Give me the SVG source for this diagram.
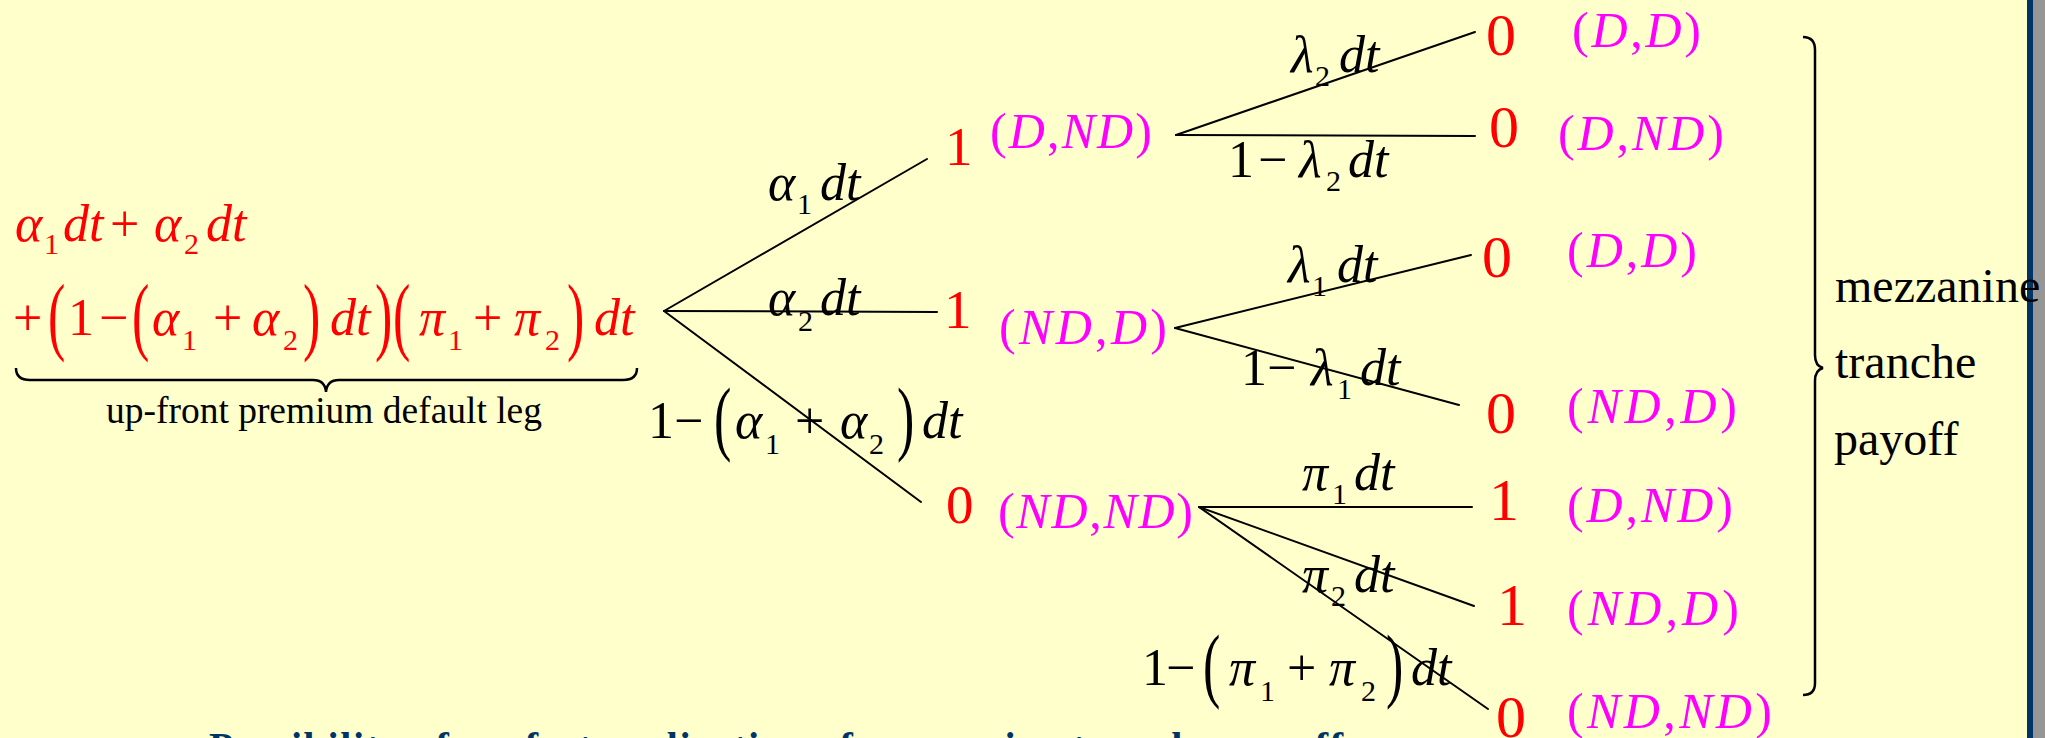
<svg xmlns="http://www.w3.org/2000/svg" width="2045" height="738" viewBox="0 0 2045 738">
<style>
text { font-family: "Liberation Serif", "Times New Roman", serif; }
.i { font-style: italic; }
.red { fill: #FF0000; }
.mag { fill: #FF00FF; }
.blk { fill: #000000; }
.f52 { font-size: 52px; }
.f60 { font-size: 60px; }
.f55 { font-size: 55px; }
.sub { font-size: 30px; font-style: normal; }
.lbl { font-size: 50px; }
.par { font-size: 52px; }
.edge { stroke: #000000; stroke-width: 2; fill: none; stroke-linecap: round; }
.brace { stroke: #000000; stroke-width: 2.5; fill: none; }
</style>
<rect x="0" y="0" width="2045" height="738" fill="#FFFFCC"/>
<rect x="2032" y="0" width="13" height="738" fill="#969696"/>
<rect x="2027" y="0" width="6" height="738" fill="#003366"/>

<g id="root">
  <text class="red f52"><tspan class="i" x="15" y="241">α</tspan><tspan class="sub" x="44" y="254">1</tspan><tspan class="i" x="63" y="241">dt</tspan><tspan x="110" y="241">+</tspan><tspan class="i" x="154" y="241">α</tspan><tspan class="sub" x="184" y="254">2</tspan><tspan class="i" x="206" y="241">dt</tspan></text>
  <text class="red f52"><tspan x="13" y="335">+</tspan><tspan x="68" y="335">1</tspan><tspan x="99" y="335">−</tspan><tspan class="i" x="152" y="335">α</tspan><tspan class="sub" x="182" y="350">1</tspan><tspan x="213" y="335">+</tspan><tspan class="i" x="252" y="335">α</tspan><tspan class="sub" x="283" y="350">2</tspan><tspan class="i" x="330" y="335">dt</tspan><tspan class="i" x="419" y="335">π</tspan><tspan class="sub" x="448" y="350">1</tspan><tspan x="473" y="335">+</tspan><tspan class="i" x="514" y="335">π</tspan><tspan class="sub" x="545" y="350">2</tspan><tspan class="i" x="594" y="335">dt</tspan></text>
  <text class="red par" transform="translate(48,344) scale(1,1.65)">(</text>
  <text class="red par" transform="translate(132,344) scale(1,1.65)">(</text>
  <text class="red par" transform="translate(303,344) scale(1,1.65)">)</text>
  <text class="red par" transform="translate(375,344) scale(1,1.65)">)</text>
  <text class="red par" transform="translate(393,344) scale(1,1.65)">(</text>
  <text class="red par" transform="translate(567,344) scale(1,1.65)">)</text>
  <path class="brace" d="M16,368 Q16,380 30,380 L313,380 Q325,380 326,392 Q327,380 339,380 L623,380 Q637,380 637,368"/>
  <text class="blk" x="106" y="423" font-size="37" textLength="436" lengthAdjust="spacingAndGlyphs">up-front premium default leg</text>
</g>

<g id="node-D-ND">
  <text class="red f55" x="945" y="165">1</text>
  <text class="mag lbl" x="990" y="148" textLength="162" lengthAdjust="spacing">(<tspan class="i">D</tspan>,<tspan class="i">ND</tspan>)</text>
</g>
<g id="node-ND-D">
  <text class="red f55" x="944" y="328">1</text>
  <text class="mag lbl" x="999" y="344" textLength="168" lengthAdjust="spacing">(<tspan class="i">ND</tspan>,<tspan class="i">D</tspan>)</text>
</g>
<g id="node-ND-ND">
  <text class="red f55" x="946" y="523">0</text>
  <text class="mag lbl" x="998" y="528" textLength="195" lengthAdjust="spacing">(<tspan class="i">ND</tspan>,<tspan class="i">ND</tspan>)</text>
</g>

<g id="leaf-1">
  <text class="red f60" x="1486" y="55">0</text>
  <text class="mag lbl" x="1572" y="47" textLength="129" lengthAdjust="spacing">(<tspan class="i">D</tspan>,<tspan class="i">D</tspan>)</text>
</g>
<g id="leaf-2">
  <text class="red f60" x="1489" y="147">0</text>
  <text class="mag lbl" x="1558" y="150" textLength="166" lengthAdjust="spacing">(<tspan class="i">D</tspan>,<tspan class="i">ND</tspan>)</text>
</g>
<g id="leaf-3">
  <text class="red f60" x="1482" y="277">0</text>
  <text class="mag lbl" x="1567" y="267" textLength="130" lengthAdjust="spacing">(<tspan class="i">D</tspan>,<tspan class="i">D</tspan>)</text>
</g>
<g id="leaf-4">
  <text class="red f60" x="1486" y="433">0</text>
  <text class="mag lbl" x="1567" y="423" textLength="170" lengthAdjust="spacing">(<tspan class="i">ND</tspan>,<tspan class="i">D</tspan>)</text>
</g>
<g id="leaf-5">
  <text class="red f60" x="1489" y="520">1</text>
  <text class="mag lbl" x="1567" y="522" textLength="166" lengthAdjust="spacing">(<tspan class="i">D</tspan>,<tspan class="i">ND</tspan>)</text>
</g>
<g id="leaf-6">
  <text class="red f60" x="1497" y="625">1</text>
  <text class="mag lbl" x="1567" y="625" textLength="172" lengthAdjust="spacing">(<tspan class="i">ND</tspan>,<tspan class="i">D</tspan>)</text>
</g>
<g id="leaf-7">
  <text class="red f60" x="1496" y="737">0</text>
  <text class="mag lbl" x="1567" y="728" textLength="205" lengthAdjust="spacing">(<tspan class="i">ND</tspan>,<tspan class="i">ND</tspan>)</text>
</g>

<g id="connectors">
  <line class="edge" x1="664" y1="311" x2="927" y2="159"/>
  <line class="edge" x1="664" y1="311" x2="937" y2="312"/>
  <line class="edge" x1="664" y1="311" x2="921" y2="502"/>
  <line class="edge" x1="1176" y1="135" x2="1475" y2="32"/>
  <line class="edge" x1="1176" y1="135" x2="1475" y2="136"/>
  <line class="edge" x1="1175" y1="328" x2="1471" y2="255"/>
  <line class="edge" x1="1175" y1="328" x2="1459" y2="405"/>
  <line class="edge" x1="1199" y1="507" x2="1472" y2="507"/>
  <line class="edge" x1="1199" y1="507" x2="1474" y2="606"/>
  <line class="edge" x1="1199" y1="507" x2="1488" y2="709"/>
</g>

<g id="edge-labels">
  <text class="blk f52"><tspan class="i" x="768" y="200">α</tspan><tspan class="sub" x="797" y="214">1</tspan><tspan class="i" x="820" y="200">dt</tspan></text>
  <text class="blk f52"><tspan class="i" x="768" y="315">α</tspan><tspan class="sub" x="798" y="331">2</tspan><tspan class="i" x="820" y="315">dt</tspan></text>
  <text class="blk f52"><tspan x="648" y="438">1</tspan><tspan x="674" y="438">−</tspan><tspan class="i" x="735" y="438">α</tspan><tspan class="sub" x="765" y="454">1</tspan><tspan x="795" y="438">+</tspan><tspan class="i" x="840" y="438">α</tspan><tspan class="sub" x="869" y="454">2</tspan><tspan class="i" x="922" y="438">dt</tspan></text>
  <text class="blk par" transform="translate(714,445) scale(1,1.6)">(</text>
  <text class="blk par" transform="translate(897,445) scale(1,1.6)">)</text>

  <text class="blk f52"><tspan class="i" x="1291" y="72">λ</tspan><tspan class="sub" x="1315" y="86">2</tspan><tspan class="i" x="1339" y="72">dt</tspan></text>
  <text class="blk f52"><tspan x="1228" y="177">1</tspan><tspan x="1258" y="177">−</tspan><tspan class="i" x="1299" y="177">λ</tspan><tspan class="sub" x="1326" y="191">2</tspan><tspan class="i" x="1348" y="177">dt</tspan></text>
  <text class="blk f52"><tspan class="i" x="1288" y="282">λ</tspan><tspan class="sub" x="1312" y="296">1</tspan><tspan class="i" x="1337" y="282">dt</tspan></text>
  <text class="blk f52"><tspan x="1241" y="385">1</tspan><tspan x="1267" y="385">−</tspan><tspan class="i" x="1311" y="385">λ</tspan><tspan class="sub" x="1337" y="399">1</tspan><tspan class="i" x="1360" y="385">dt</tspan></text>
  <text class="blk f52"><tspan class="i" x="1302" y="490">π</tspan><tspan class="sub" x="1332" y="504">1</tspan><tspan class="i" x="1354" y="490">dt</tspan></text>
  <text class="blk f52"><tspan class="i" x="1302" y="592">π</tspan><tspan class="sub" x="1331" y="606">2</tspan><tspan class="i" x="1354" y="592">dt</tspan></text>
  <text class="blk f52"><tspan x="1142" y="685">1</tspan><tspan x="1166" y="685">−</tspan><tspan class="i" x="1229" y="685">π</tspan><tspan class="sub" x="1260" y="701">1</tspan><tspan x="1287" y="685">+</tspan><tspan class="i" x="1329" y="685">π</tspan><tspan class="sub" x="1361" y="701">2</tspan><tspan class="i" x="1411" y="685">dt</tspan></text>
  <text class="blk par" transform="translate(1203,692) scale(1,1.6)">(</text>
  <text class="blk par" transform="translate(1386,692) scale(1,1.6)">)</text>
</g>

<g id="payoff-brace">
  <path class="brace" d="M1803,37 Q1815,37 1815,50 L1815,355 Q1815,366 1823,368 Q1815,370 1815,381 L1815,683 Q1815,695 1803,695"/>
  <text class="blk" font-size="48" x="1835" y="302">mezzanine</text>
  <text class="blk" font-size="48" x="1835" y="378">tranche</text>
  <text class="blk" font-size="48" x="1834" y="455">payoff</text>
</g>

<g id="caption">
  <text x="209" y="760" font-size="40" font-weight="bold" fill="#003366" textLength="1134" lengthAdjust="spacing">Possibility of perfect replication of mezzanine tranche payoff</text>
</g>
</svg>
